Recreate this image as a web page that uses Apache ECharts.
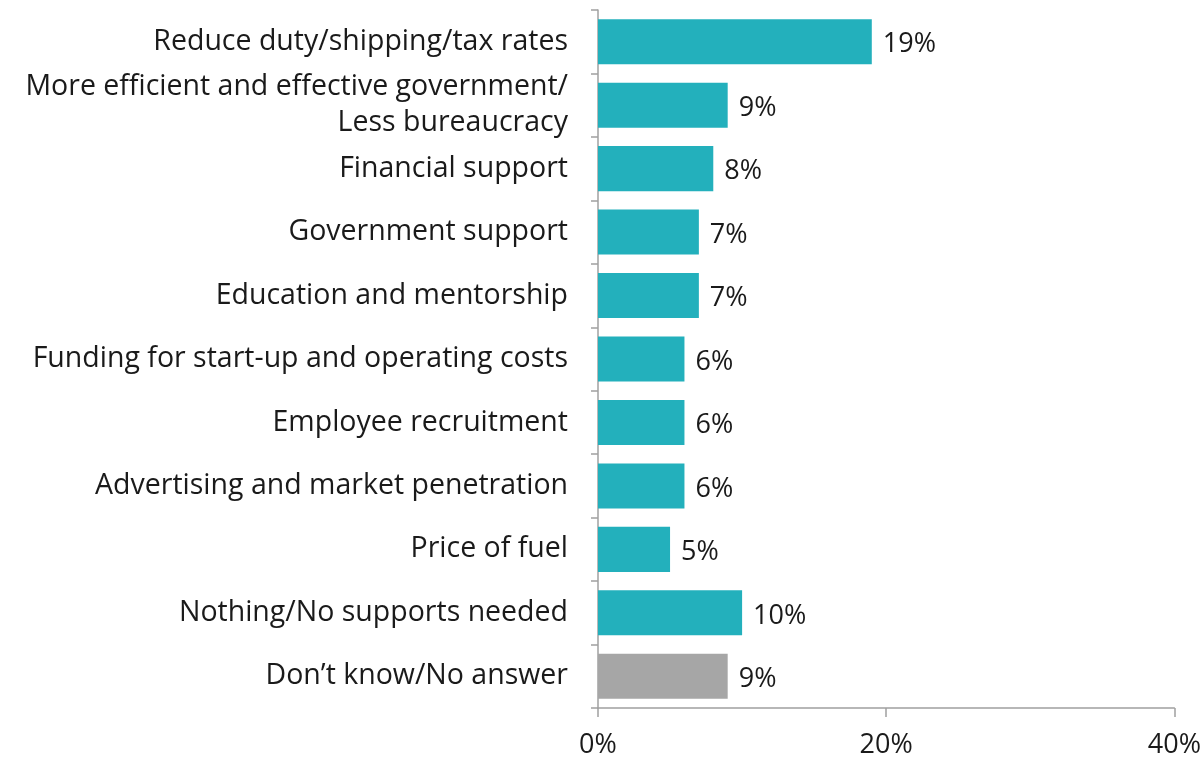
<!DOCTYPE html>
<html>
<head>
<meta charset="utf-8">
<script src="https://cdn.jsdelivr.net/npm/echarts@6/dist/echarts.min.js"></script>
<style>
  html, body { margin: 0; padding: 0; background: #fff; }
  #main { width: 1204px; height: 759px; }
</style>
</head>
<body>
<div id="main"></div>
<script>
let categories = [
    'Reduce duty/shipping/tax rates',
    'More efficient and effective government/\nLess bureaucracy',
    'Financial support',
    'Government support',
    'Education and mentorship',
    'Funding for start-up and operating costs',
    'Employee recruitment',
    'Advertising and market penetration',
    'Price of fuel',
    'Nothing/No supports needed',
    'Don\u2019t know/No answer'
];
let values = [19, 9, 8, 7, 7, 6, 6, 6, 5, 10, 9];
let xTicks = [0, 20, 40];

let teal = '#23B0BC';
let grey = '#A6A6A6';
let font = 'Open Sans';

let myChart = echarts.init(document.getElementById('main'));
myChart.setOption({
    animation: false,
    grid: {
        left: 598,
        right: 29,
        top: 10,
        bottom: 51,
        containLabel: false
    },
    xAxis: {
        type: 'value',
        min: xTicks[0],
        max: xTicks[xTicks.length - 1],
        interval: xTicks[1] - xTicks[0],
        axisLine: { show: true, lineStyle: { color: '#A0A0A0', width: 1.5 } },
        axisTick: { show: true, length: 9, lineStyle: { color: '#A0A0A0', width: 1.5 } },
        splitLine: { show: false },
        axisLabel: {
            formatter: '{value}%',
            color: '#1a1a1a',
            fontFamily: font,
            fontSize: 27,
            margin: 24
        }
    },
    yAxis: {
        type: 'category',
        inverse: true,
        data: categories,
        axisLine: { show: true, lineStyle: { color: '#A0A0A0', width: 1.5 } },
        axisTick: { show: true, length: 7, lineStyle: { color: '#A0A0A0', width: 1.5 } },
        axisLabel: {
            color: '#1a1a1a',
            fontFamily: font,
            fontSize: 28.5,
            lineHeight: 36,
            margin: 30,
            align: 'right'
        }
    },
    series: [
        {
            type: 'bar',
            barWidth: '71%',
            data: values.map(function (v, i) {
                return {
                    value: v,
                    itemStyle: { color: i === values.length - 1 ? grey : teal }
                };
            }),
            label: {
                show: true,
                position: 'right',
                distance: 11,
                offset: [0, 3],
                formatter: '{c}%',
                color: '#1a1a1a',
                fontFamily: font,
                fontSize: 27
            }
        }
    ]
});
</script>
</body>
</html>
